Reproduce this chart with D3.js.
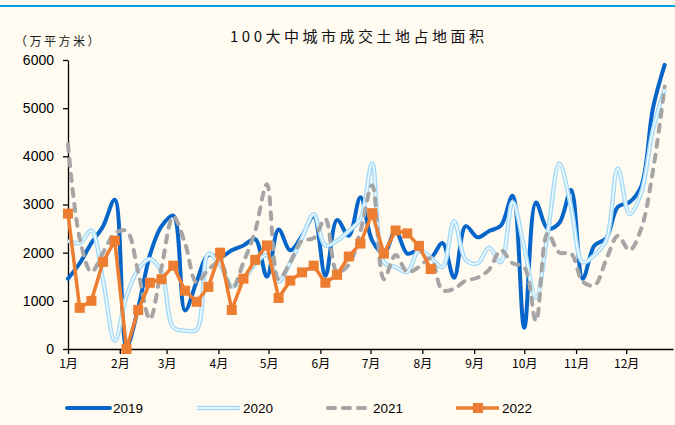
<!DOCTYPE html>
<html>
<head>
<meta charset="utf-8">
<script src="https://cdn.jsdelivr.net/npm/d3@7"></script>
<style>
  body { margin: 0; background: #fffbf1; }
  svg { display: block; }
</style>
</head>
<body>
<div id="chart"></div>
<script>
// weekly values, one per week starting 1 Jan (万平方米)
var years = ["2019", "2020", "2021", "2022"];
var v2019 = [1460, 1780, 2200, 2550, 3100, 50, 850, 1950, 2550, 2770,
             800, 1400, 1950, 1900, 2050, 2150, 2280, 1500, 2480, 2050,
             2350, 2750, 1520, 2680, 2350, 3150, 2250, 1980, 2450, 1980,
             2050, 1900, 2200, 1480, 2550, 2320, 2450, 2560, 3180, 440,
             3040, 2500, 2620, 3300, 1460, 2150, 2300, 2950, 3050, 3380,
             5000, 5900];
var v2020 = [2250, 2200, 2460, 1420, 170, 1100, 1650, 1870, 1600, 450,
             380, 400, 1980, 1750, 1300, 1450, 1770, 1950, 1400, 1800,
             2300, 2800, 2150, 2250, 2450, 2700, 3850, 1800, 1700, 1600,
             2050, 1900, 1700, 2650, 1850, 1780, 2100, 1800, 3050, 2100,
             1060, 2400, 3850, 2950, 1800, 1950, 2250, 3750, 2800, 3250,
             4550, 5400];
var v2021 = [4250, 2300, 1600, 2000, 2400, 2450, 1600, 620, 1700, 2750,
             2200, 1380, 1650, 1800, 1250, 1800, 2450, 3420, 1450, 1800,
             2250, 2300, 2700, 1600, 1750, 2450, 3400, 1450, 1950, 1600,
             1700, 1880, 1220, 1250, 1420, 1480, 1650, 2050, 1780, 1700,
             580, 2400, 2000, 1980, 1400, 1320, 1850, 2350, 2050, 2500,
             3700, 5450];
var v2022 = [2810, 855, 1000, 1810, 2250, 0, 810, 1375, 1450, 1730,
             1210, 980, 1290, 2000, 810, 1460, 1850, 2150, 1060, 1420,
             1590, 1730, 1375, 1540, 1920, 2190, 2820, 1980, 2460, 2400,
             2140, 1660];
var monthDays = [0, 31, 59, 90, 120, 151, 181, 212, 243, 273, 304, 334];
var monthLabels = ["1月", "2月", "3月", "4月", "5月", "6月", "7月", "8月", "9月", "10月", "11月", "12月"];
var yTicks = [0, 1000, 2000, 3000, 4000, 5000, 6000];

var W = 675, H = 425;
var svg = d3.select("#chart").append("svg")
    .attr("width", W).attr("height", H);

svg.append("rect").attr("width", W).attr("height", H).attr("fill", "#fffbf1");
svg.append("rect").attr("x", 0).attr("y", 5).attr("width", W).attr("height", 2).attr("fill", "#00a0e9");

var x = d3.scaleLinear().domain([0, 362]).range([68, 673]);
var y = d3.scaleLinear().domain([0, 6000]).range([349, 60]);

// title + unit
svg.append("text")
    .attr("x", 230).attr("y", 42)
    .attr("font-family", "Noto Sans CJK SC")
    .attr("font-size", 15)
    .attr("letter-spacing", 3.5)
    .attr("fill", "#111")
    .text("100大中城市成交土地占地面积");
svg.append("text")
    .attr("x", 15).attr("y", 46)
    .attr("font-family", "Noto Sans CJK SC")
    .attr("font-size", 12)
    .attr("letter-spacing", 2.5)
    .attr("fill", "#222")
    .text("（万平方米）");

// axes
var yaxis = d3.axisLeft(y).tickValues(yTicks).tickFormat(d3.format("d"))
    .tickSize(5).tickSizeOuter(0).tickPadding(9);
var ga = svg.append("g").attr("transform", "translate(68,0)").call(yaxis);
ga.selectAll("text").attr("font-family", "Liberation Sans, Arial").attr("font-size", 14).attr("fill", "#000");

var xaxis = d3.axisBottom(x).tickValues(monthDays)
    .tickFormat(function (d, i) { return monthLabels[i]; })
    .tickSize(5).tickSizeOuter(0).tickPadding(5);
var gx = svg.append("g").attr("transform", "translate(0,349)").call(xaxis);
gx.selectAll("text").attr("font-family", "Noto Sans CJK SC").attr("font-size", 12).attr("fill", "#000");
svg.selectAll(".domain, .tick line").attr("stroke", "#000").attr("stroke-width", 1.3);

var smooth = d3.line()
    .x(function (d, i) { return x(i * 7); })
    .y(function (d) { return y(d); })
    .curve(d3.curveCatmullRom.alpha(0.5));
var straight = d3.line()
    .x(function (d, i) { return x(i * 7); })
    .y(function (d) { return y(d); });

// 2019
svg.append("path").attr("d", smooth(v2019))
    .attr("fill", "none").attr("stroke", "#0565c9").attr("stroke-width", 4)
    .attr("stroke-linejoin", "round").attr("stroke-linecap", "round");

// 2020 (double line)
svg.append("path").attr("d", smooth(v2020))
    .attr("fill", "none").attr("stroke", "#a6dbf7").attr("stroke-width", 4.5);
svg.append("path").attr("d", smooth(v2020))
    .attr("fill", "none").attr("stroke", "#eef8fe").attr("stroke-width", 1.6);

// 2021
svg.append("path").attr("d", smooth(v2021))
    .attr("fill", "none").attr("stroke", "#a5a5a5").attr("stroke-width", 4)
    .attr("stroke-dasharray", "7,8").attr("stroke-linecap", "round");

// 2022
svg.append("path").attr("d", straight(v2022))
    .attr("fill", "none").attr("stroke", "#ed7d31").attr("stroke-width", 3.5)
    .attr("stroke-linejoin", "round");
svg.selectAll(".m22").data(v2022).enter().append("rect")
    .attr("class", "m22")
    .attr("x", function (d, i) { return x(i * 7) - 5; })
    .attr("y", function (d) { return y(d) - 5; })
    .attr("width", 10).attr("height", 10)
    .attr("fill", "#ed7d31");

// legend
var lg = svg.append("g");
var lx = [67, 197, 326, 456];
years.forEach(function (yr, i) {
    var g = lg.append("g").attr("transform", "translate(" + lx[i] + ",408)");
    if (i === 0) {
        g.append("line").attr("x1", 0).attr("x2", 43).attr("stroke", "#0565c9").attr("stroke-width", 4).attr("stroke-linecap", "round");
    } else if (i === 1) {
        g.append("line").attr("x1", 0).attr("x2", 43).attr("stroke", "#a6dbf7").attr("stroke-width", 4.5);
        g.append("line").attr("x1", 0.5).attr("x2", 42.5).attr("stroke", "#eef8fe").attr("stroke-width", 1.6);
    } else if (i === 2) {
        g.append("line").attr("x1", 2).attr("x2", 40).attr("stroke", "#a5a5a5").attr("stroke-width", 4)
            .attr("stroke-dasharray", "7,8").attr("stroke-linecap", "round");
    } else {
        g.append("line").attr("x1", 0).attr("x2", 43).attr("stroke", "#ed7d31").attr("stroke-width", 3.5);
        g.append("rect").attr("x", 17).attr("y", -5).attr("width", 10).attr("height", 10).attr("fill", "#ed7d31");
    }
    g.append("text").attr("x", i === 2 ? 47 : 46).attr("y", 5)
        .attr("font-family", "Liberation Sans, Arial").attr("font-size", 13.5).attr("fill", "#000")
        .text(yr);
});
</script>
</body>
</html>
